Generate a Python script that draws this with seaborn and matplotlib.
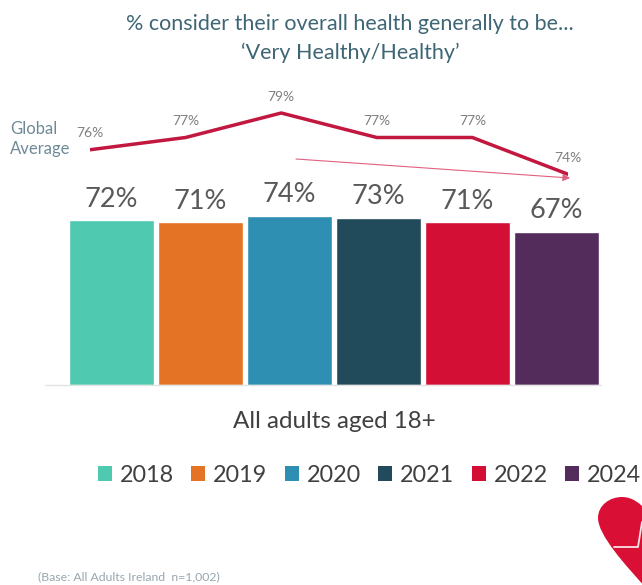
import matplotlib
matplotlib.use("Agg")
import matplotlib.pyplot as plt
from matplotlib.patches import PathPatch, Patch
from matplotlib.path import Path
import pandas as pd
import seaborn as sns

years = ["2018", "2019", "2020", "2021", "2022", "2024"]
ireland = [72, 71, 74, 73, 71, 67]
global_avg = [76, 77, 79, 77, 77, 74]
colors = ["#4FC9B0", "#E57325", "#2F8FB3", "#214A5A", "#D40F36", "#542C5C"]

W, H = 642, 585
sns.set_theme(style="white")
plt.rcParams["font.family"] = ["Lato", "DejaVu Sans"]

fig = plt.figure(figsize=(W / 100, H / 100), dpi=100, facecolor="white")


def axes_px(left, top, right, bottom, **kw):
    return fig.add_axes([left / W, 1 - bottom / H, (right - left) / W, (bottom - top) / H], **kw)


# Ireland bars
bar_ax = axes_px(67, 200, 601, 385)
df = pd.DataFrame({"year": years, "pct": ireland})
sns.barplot(data=df, x="year", y="pct", hue="year", palette=colors, legend=False,
            width=0.955, saturation=1, ax=bar_ax)
bar_ax.set_ylim(0, 185 / 2.29)
bar_ax.set_xlim(-0.5, 5.5)
bar_ax.axis("off")
for i, v in enumerate(ireland):
    bar_ax.annotate(f"{v}%", (i, v), xytext=(0, 6), textcoords="offset points",
                    ha="center", va="bottom", fontsize=19.5, color="#595959")

# Global average line, on its own scale above the bars
line_ax = axes_px(90, 88, 568, 186)
line_df = pd.DataFrame({"pos": range(len(years)), "pct": global_avg})
sns.lineplot(data=line_df, x="pos", y="pct", color="#C2173F", linewidth=2.5, ax=line_ax)
line_ax.set_xlim(0, 5)
line_ax.set_ylim(77 - (186 - 137.5) / 12.25, 77 + (137.5 - 88) / 12.25)
line_ax.axis("off")
line_ax.patch.set_alpha(0)
for i, v in enumerate(global_avg):
    line_ax.annotate(f"{v}%", (i, v), xytext=(0, 7.5), textcoords="offset points",
                     ha="center", va="bottom", fontsize=10, color="#7F7F7F",
                     annotation_clip=False)

# Overlay in pixel coordinates for the title, captions and decoration
top = fig.add_axes([0, 0, 1, 1])
top.set_xlim(0, W)
top.set_ylim(H, 0)
top.axis("off")
top.patch.set_alpha(0)

top.text(350, 24, "% consider their overall health generally to be...", ha="center", va="center",
         fontsize=15.5, color="#3F6675")
top.text(350, 53, "\u2018Very Healthy/Healthy\u2019", ha="center", va="center",
         fontsize=15.5, color="#3F6675")
top.text(10, 129, "Global", ha="left", va="center", fontsize=12, color="#6F8A96")
top.text(10, 149, "Average", ha="left", va="center", fontsize=12, color="#6F8A96")
top.text(334, 421, "All adults aged 18+", ha="center", va="center", fontsize=17.4, color="#404040")
top.text(38, 577, "(Base: All Adults Ireland  n=1,002)", ha="left", va="center",
         fontsize=8.8, color="#98A6AE")

top.plot([45, 601], [385, 385], color="#E3E3E3", lw=1, zorder=0)

top.annotate("", xy=(570, 178), xytext=(296, 159),
             arrowprops=dict(arrowstyle="-|>,head_length=0.35,head_width=0.18",
                             color="#E0607F", lw=0.8, shrinkA=0, shrinkB=0))

# Legend row
handles = [Patch(facecolor=c, edgecolor="none") for c in colors]
leg = top.legend(handles, years, ncol=6, loc="center left", bbox_to_anchor=(98 / W, 1 - 475 / H),
                 bbox_transform=fig.transFigure, frameon=False, fontsize=16.8,
                 handlelength=0.6, handleheight=0.6, handletextpad=0.34, columnspacing=0.74,
                 borderaxespad=0, borderpad=0, labelcolor="#404040")

# Heart emblem cut off by the corner
heart = Path(
    [(648, 590), (625, 565), (598, 535), (598, 518), (598, 505), (610, 497), (622, 497),
     (632, 497), (640, 503), (648, 512), (648, 590)],
    [Path.MOVETO, Path.CURVE4, Path.CURVE4, Path.CURVE4, Path.CURVE4, Path.CURVE4, Path.CURVE4,
     Path.CURVE4, Path.CURVE4, Path.CURVE4, Path.CLOSEPOLY],
)
top.add_patch(PathPatch(heart, facecolor="#D90F36", edgecolor="none"))
top.plot([614, 638, 642], [547, 547, 522], color="#F7E3E6", lw=1.3)

fig.savefig("out.png", dpi=100)
